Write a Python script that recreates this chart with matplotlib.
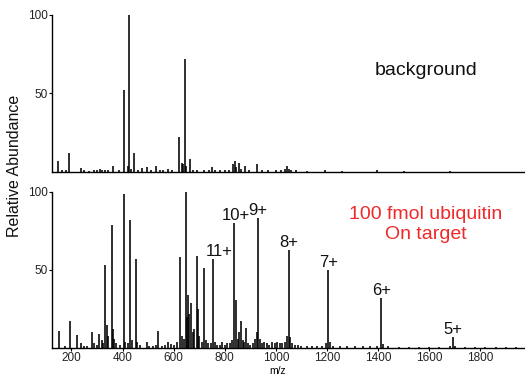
"""Ubiquitin MALDI-style spectrum: background (top) vs 100 fmol on target (bottom)."""
import matplotlib
matplotlib.use("Agg")
import matplotlib.pyplot as plt

plt.rcParams["font.family"] = ["Liberation Sans", "DejaVu Sans"]

# top panel: background spectrum (m/z, relative abundance)
bg_mz = [148, 162, 180, 191, 236, 250, 270, 290, 300, 310, 318, 330, 345, 361, 385,
         407, 421, 426, 435, 446, 460, 478, 494, 510, 533, 545, 560, 579, 595, 621,
         632, 638, 643, 650, 664, 675, 690, 720, 740, 751, 760, 780, 800, 815, 833,
         840, 845, 857, 865, 879, 895, 925, 945, 970, 1000, 1020, 1035, 1042, 1050,
         1060, 1080, 1120, 1192, 1260, 1394, 1500, 1681, 1800]
bg_int = [7, 1, 1, 12, 2.5, 1, 0.8, 1, 1.5, 2, 1.5, 1, 1.5, 4, 1,
          52, 4, 100, 2, 12, 1.5, 2.5, 3, 1, 4, 1, 1.5, 2, 1, 22,
          6, 5, 72, 4, 8, 1.5, 1, 1, 1.5, 3, 1.5, 1, 1, 1, 5,
          7, 3, 6, 2, 4, 1, 5, 1, 1.5, 1, 1.5, 2, 4, 2,
          1.5, 1, 0.8, 1.5, 0.5, 1, 0.5, 0.7, 0.3]

# bottom panel: 100 fmol ubiquitin on target
ub_mz = [150, 175, 194, 220, 236, 250, 262, 279, 290, 300, 308, 318, 325, 331, 339,
         345, 357, 362, 368, 375, 390, 404, 410, 420, 429, 436, 451, 458, 470, 494,
         505, 520, 530, 540, 555, 565, 578, 590, 600, 612, 625, 632, 640, 648, 652,
         657, 662, 668, 675, 681, 690, 695, 700, 710, 719, 725, 735, 745, 755, 762,
         770, 780, 788, 800, 810, 820, 830, 837, 844, 850, 857, 863, 870, 877, 883,
         890, 900, 910, 918, 925, 931, 937, 945, 955, 965, 975, 985, 995, 1005, 1015,
         1025, 1035, 1045, 1051, 1057, 1062, 1075, 1085, 1100, 1120, 1140, 1160, 1180,
         1195, 1205, 1212, 1225, 1250, 1280, 1310, 1340, 1370, 1395, 1410, 1418, 1440,
         1480, 1520, 1560, 1600, 1640, 1680, 1694, 1702, 1740, 1780, 1820, 1860, 1900, 1940]
ub_int = [11, 1.5, 17, 8.5, 3, 1.5, 1, 10.5, 3, 2, 9, 5, 3, 53, 15,
          8, 79, 12, 6, 3, 2, 99, 4, 3, 82, 5, 57, 4, 2, 4,
          1.5, 1, 2, 11, 1.5, 2, 4, 2.5, 2, 4, 58, 8, 6, 100, 20,
          34, 22, 29, 10, 12, 59, 25, 8, 4, 51, 5, 3, 3, 57, 4,
          2, 2, 4, 2, 3, 3, 5, 80, 31, 6, 10, 17, 5, 4, 13,
          3, 2, 3, 6, 10, 83, 6, 3, 4, 3, 2, 4, 3, 4, 3,
          3, 4, 8, 63, 7, 3, 2, 2, 1.5, 1, 1, 1, 1.5,
          3, 50, 4, 1.5, 1, 1, 1, 1, 1, 1.5, 32, 2.5, 1,
          0.8, 0.8, 0.8, 0.8, 0.8, 1, 7, 1.5, 0.8, 0.8, 0.8, 0.8, 0.8, 0.8]

# charge-state labels: (label, m/z, abundance)
charge_labels = ["11+", "10+", "9+", "8+", "7+", "6+", "5+"]
charge_mz = [755, 837, 931, 1051, 1205, 1410, 1694]
charge_int = [57, 80, 83, 63, 50, 32, 7]
label_dx = [22, 8, 0, 0, 0, 4, 0]

XLIM = (124, 1975)

fig = plt.figure(figsize=(5.25, 3.76), dpi=100)
ax_top = fig.add_axes([0.099, 0.5426, 0.901, 0.4176])
ax_bot = fig.add_axes([0.099, 0.0745, 0.901, 0.415])

for ax, mz, inten in [(ax_top, bg_mz, bg_int), (ax_bot, ub_mz, ub_int)]:
    ax.vlines(mz, 0, inten, color="black", lw=1.15)
    ax.set_xlim(*XLIM)
    ax.set_ylim(0, 100)
    ax.set_yticks([50, 100])
    for s in ("top", "right"):
        ax.spines[s].set_visible(False)
    ax.spines["left"].set_linewidth(1.0)
    ax.spines["bottom"].set_linewidth(1.0)
    ax.tick_params(axis="y", length=2, width=0.8, labelsize=8.5, pad=1, labelcolor="#222")
    ax.tick_params(axis="x", length=2, width=0.8, labelsize=8.5, pad=1, labelcolor="#222")

ax_top.set_xticks([])
ax_bot.set_xticks([200, 400, 600, 800, 1000, 1200, 1400, 1600, 1800])
ax_bot.set_xlabel("m/z", fontsize=7.5, labelpad=0)
ax_bot.xaxis.set_label_coords(0.476, -0.115)

for lab, mz, h, dx in zip(charge_labels, charge_mz, charge_int, label_dx):
    ax_bot.text(mz + dx, h, lab, fontsize=12, ha="center", va="bottom", color="#111")

ax_top.text(0.79, 0.645, "background", transform=ax_top.transAxes,
            fontsize=14, ha="center", va="center", color="#111")
ax_bot.text(0.79, 0.79, "100 fmol ubiquitin\nOn target", transform=ax_bot.transAxes,
            fontsize=14, ha="center", va="center", color="#ee2a2a", linespacing=1.25)

fig.text(0.027, 0.56, "Relative Abundance", rotation=90, fontsize=11.5,
         ha="center", va="center", color="#111")

fig.savefig("out.png", dpi=100)
